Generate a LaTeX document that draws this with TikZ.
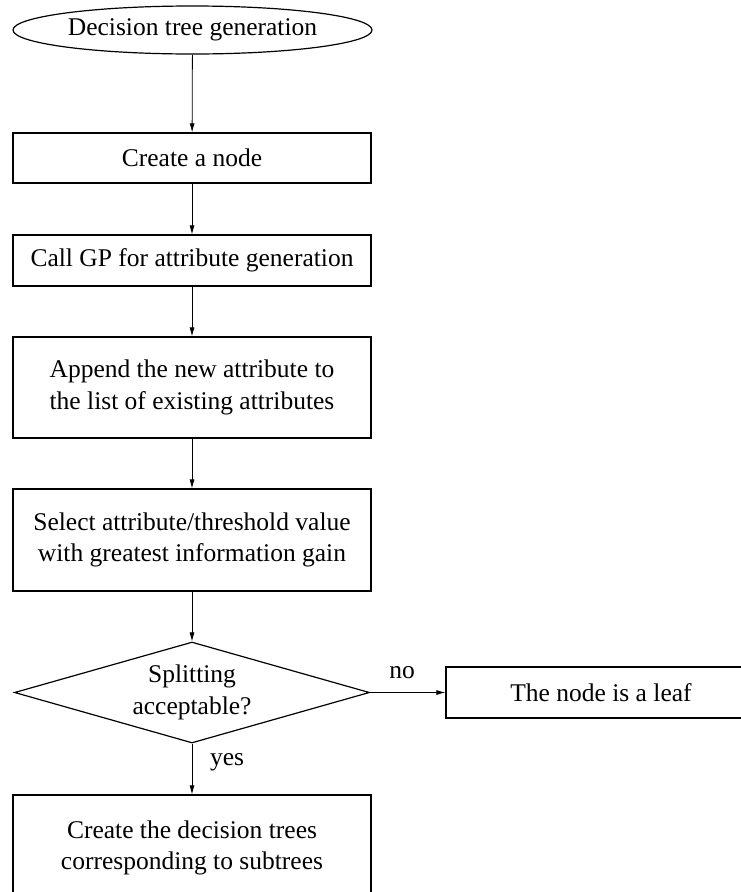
\documentclass[tikz,border=0pt]{standalone}
\usepackage{fontspec}
\setmainfont{Liberation Serif}
\usetikzlibrary{shapes.geometric,arrows.meta}
\begin{document}
\begin{tikzpicture}[x=1pt,y=-1pt,
  every node/.style={font=\fontsize{25.5}{31.5}\selectfont, inner sep=0pt, align=center},
  procbox/.style={draw, line width=1.2pt, rectangle, minimum width=358pt},
  termnode/.style={draw, ellipse, line width=1.2pt, minimum width=359pt, minimum height=48pt},
  decnode/.style={draw, diamond, aspect=3.5, line width=1.2pt, minimum width=355pt, minimum height=101pt},
  flow/.style={line width=0.8pt, -{Latex[length=9pt,width=5pt]}}]
\useasboundingbox (0,0) rectangle (741,892);
\clip (0,0) rectangle (741,892);
\node[termnode] (start) at (192.5,30) {Decision tree generation};
\node[procbox, minimum height=50pt] (create) at (192,158) {Create a node};
\node[procbox, minimum height=51pt] (callgp) at (192,260.5) {Call GP for attribute generation};
\node[procbox, minimum height=101pt] (append) at (192,387.5) {Append the new attribute to\\the list of existing attributes};
\node[procbox, minimum height=102pt] (select) at (192,540) {Select attribute/threshold value\\with greatest information gain};
\node[decnode] (split) at (192,692.5) {Splitting\\acceptable?};
\node[procbox, minimum width=310pt, minimum height=51pt] (leaf) at (601,692.5) {The node is a leaf};
\node[procbox, minimum height=106pt] (subtrees) at (192,848) {Create the decision trees\\corresponding to subtrees};
\node (nolab) at (402,673) {no};
\node (yeslab) at (227,762) {yes};
\draw[flow] (start) -- (create);
\draw[flow] (create) -- (callgp);
\draw[flow] (callgp) -- (append);
\draw[flow] (append) -- (select);
\draw[flow] (select) -- (split);
\draw[flow] (split.east) -- (leaf.west);
\draw[flow] (split.south) -- (subtrees.north);
\end{tikzpicture}
\end{document}
